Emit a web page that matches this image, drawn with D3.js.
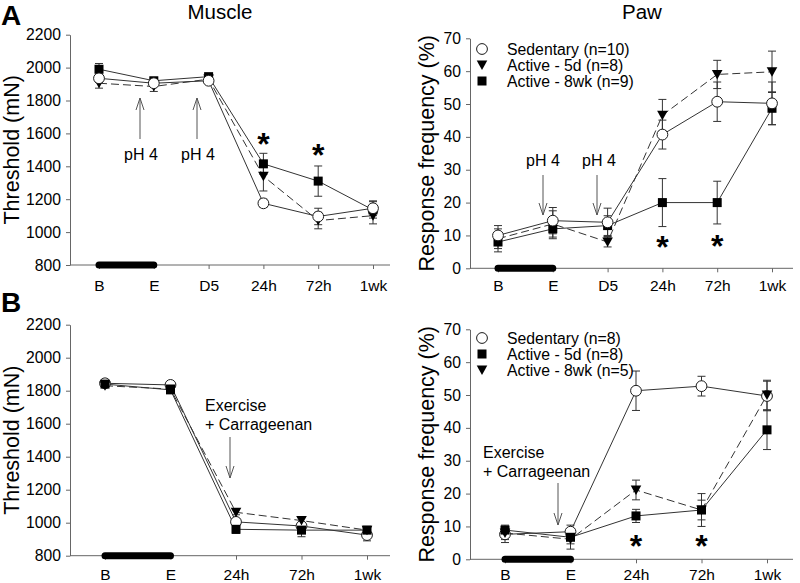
<!DOCTYPE html>
<html><head><meta charset="utf-8">
<script src="https://cdn.jsdelivr.net/npm/d3@7"></script>
<style>body{margin:0;background:#fff} svg{display:block} text{font-family:"Liberation Sans",Arial,sans-serif}</style>
</head><body>
<svg id="c" width="800" height="583"></svg>
<script>
// ---------- data ----------
const catsA = ["B","E","D5","24h","72h","1wk"];
const catsB = ["B","E","24h","72h","1wk"];
const muscleTicks = [800,1000,1200,1400,1600,1800,2000,2200];
const pawTicks = [0,10,20,30,40,50,60,70];

// Panel A - Muscle (mN)
const aMusSed     = [1935,1905,1920,1175,1095,1145];
const aMusSedErr  = [25,20,15,25,50,45];
const aMus5d      = [1905,1885,1930,1340,1070,1100];
const aMus5dErr   = [30,30,15,90,50,50];
const aMus8wk     = [1990,1920,1945,1415,1310,1135];
const aMus8wkErr  = [35,15,15,64,92,50];

// Panel A - Paw (%)
const aPawSed     = [10,14.5,14,40.7,50.7,50.2];
const aPawSedErr  = [3,4,4.3,4.4,6,6.5];
const aPaw5d      = [9,13.5,8,46.6,59,59.8];
const aPaw5dErr   = [3,4,1.5,4.8,4.3,6.3];
const aPaw8wk     = [8,12,13,20,20,48.7];
const aPaw8wkErr  = [3,3,3,7.3,6.5,5];

// Panel B - Muscle (mN)
const bMusSed     = [1845,1835,1005,980,925];
const bMusSedErr  = [10,10,20,20,35];
const bMus5d      = [1840,1805,960,955,955];
const bMus5dErr   = [10,15,25,40,15];
const bMus8wk     = [1830,1810,1063,1013,955];
const bMus8wkErr  = [10,10,15,20,15];

// Panel B - Paw (%)
const bPawSed     = [7.6,8.4,51.3,52.7,49.7];
const bPawSedErr  = [2.5,2,6,3,4.5];
const bPaw5d      = [8.9,6.7,13.2,15,39.4];
const bPaw5dErr   = [1.5,2,2,5,6];
const bPaw8wk     = [8,6.1,21.1,15,50];
const bPaw8wkErr  = [2,3,3,3,4.5];

const legendA = ["Sedentary (n=10)","Active - 5d (n=8)","Active - 8wk (n=9)"];
const legendB = ["Sedentary (n=8)","Active - 5d (n=8)","Active - 8wk (n=5)"];

// ---------- drawing ----------
const svg = d3.select("#c");
const FONT = '"Liberation Sans", Arial, sans-serif';
const INK = "#1a1a1a";

function marker(g, type, cx, cy) {
  if (type === "circle") {
    g.append("circle").attr("cx",cx).attr("cy",cy).attr("r",5.4)
      .attr("fill","#fff").attr("stroke",INK).attr("stroke-width",1);
  } else if (type === "square") {
    g.append("rect").attr("x",cx-4.5).attr("y",cy-4.5).attr("width",9).attr("height",9).attr("fill","#000");
  } else {
    g.append("path").attr("d",`M${cx-5.3},${cy-4.5}L${cx+5.3},${cy-4.5}L${cx},${cy+5}Z`).attr("fill","#000");
  }
}

function panel(cfg) {
  const g = svg.append("g");
  const x = d3.scalePoint().domain(cfg.cats).range(cfg.xr);
  const y = d3.scaleLinear().domain([cfg.ticks[0], cfg.ticks[cfg.ticks.length-1]]).range([cfg.yb, cfg.yt]);

  // y axis
  const ya = g.append("g").attr("transform",`translate(${cfg.x0},0)`)
    .call(d3.axisLeft(y).tickValues(cfg.ticks).tickFormat(d3.format("d")).tickSize(4).tickPadding(5).tickSizeOuter(0));
  ya.select(".domain").attr("stroke","#666");
  ya.selectAll(".tick line").attr("stroke","#666");
  ya.selectAll(".tick text").attr("font-size",15.7).attr("font-family",FONT).attr("fill","#000");

  // x axis
  const xa = g.append("g").attr("transform",`translate(0,${cfg.yb})`)
    .call(d3.axisBottom(x).tickSize(4).tickPadding(cfg.xpad).tickSizeOuter(0));
  xa.select(".domain").attr("d",`M${cfg.x0},0H${cfg.xe}`).attr("stroke","#666");
  xa.selectAll(".tick line").attr("stroke","#666");
  xa.selectAll(".tick text").attr("font-size",15.5).attr("font-family",FONT).attr("fill","#000");

  // exercise bar
  g.append("line").attr("x1",x("B")).attr("x2",x("E")).attr("y1",cfg.yb).attr("y2",cfg.yb)
    .attr("stroke","#000").attr("stroke-width",7).attr("stroke-linecap","round");

  const line = d3.line().x(d => x(d.c)).y(d => y(d.v));
  const seriesData = cfg.series.map(s => s.vals.map((v,i) => ({c: cfg.cats[i], v, e: s.err[i]})));

  // lines
  cfg.series.forEach((s,k) => {
    g.append("path").attr("d", line(seriesData[k])).attr("fill","none")
      .attr("stroke", "#333").attr("stroke-width",1)
      .attr("stroke-dasharray", s.dash ? "8,4" : null);
  });
  // error bars
  cfg.series.forEach((s,k) => {
    seriesData[k].forEach(d => {
      const cx = x(d.c);
      g.append("line").attr("x1",cx).attr("x2",cx).attr("y1",y(d.v-d.e)).attr("y2",y(d.v+d.e)).attr("stroke","#333");
      [d.v-d.e, d.v+d.e].forEach(t => g.append("line").attr("x1",cx-4).attr("x2",cx+4).attr("y1",y(t)).attr("y2",y(t)).attr("stroke","#333"));
    });
  });
  // markers
  cfg.order.forEach(k => {
    const s = cfg.series[k];
    seriesData[k].forEach(d => marker(g, s.type, x(d.c), y(d.v)));
  });

  // y title
  g.append("text").attr("transform",`translate(${cfg.ytx},${(cfg.yt+cfg.yb)/2}) rotate(-90)`)
    .attr("text-anchor","middle").attr("font-size",21.5).attr("font-family",FONT).text(cfg.ytitle);

  // legend
  if (cfg.legend) {
    cfg.legend.forEach((lab,i) => {
      const ly = cfg.legY + i*16;
      marker(g, cfg.series[i].type, cfg.x0 + 12, ly);
      g.append("text").attr("x", cfg.x0 + 37).attr("y", ly).attr("dy","0.36em")
        .attr("font-size",15.8).attr("font-family",FONT).text(lab);
    });
  }
  // asterisks
  (cfg.stars || []).forEach(st => {
    g.append("text").attr("x", x(st.c)).attr("y", st.y).attr("text-anchor","middle")
      .attr("font-size",32).attr("font-weight","bold").attr("font-family",FONT).text("*");
  });
  return {g, x, y};
}

function arrow(g, x, y1, y2) {
  const dir = y2 > y1 ? -1 : 1;
  g.append("line").attr("x1",x).attr("x2",x).attr("y1",y1).attr("y2",y2).attr("stroke","#555");
  g.append("path").attr("d",`M${x-4},${y2+dir*12}L${x},${y2}L${x+4},${y2+dir*12}`)
    .attr("fill","none").attr("stroke","#555");
}
function label(g, x, y, txt, anchor) {
  g.append("text").attr("x",x).attr("y",y).attr("text-anchor",anchor||"middle")
    .attr("font-size",16).attr("font-family",FONT).text(txt);
}

// Panel A left: Muscle
const pAL = panel({
  cats: catsA, xr:[99,373], x0:70, xe:390, yt:34.7, yb:265, ticks: muscleTicks, xpad:11,
  ytitle:"Threshold (mN)", ytx:18.5,
  series:[
    {vals:aMusSed, err:aMusSedErr, type:"circle", dash:false},
    {vals:aMus5d, err:aMus5dErr, type:"triangle", dash:true},
    {vals:aMus8wk, err:aMus8wkErr, type:"square", dash:false}
  ],
  order:[1,2,0],
  stars:[{c:"24h", y:155},{c:"72h", y:166}]
});
arrow(pAL.g, 140, 139, 98);
arrow(pAL.g, 197, 139, 98);
label(pAL.g, 141, 160, "pH 4");
label(pAL.g, 198, 160, "pH 4");

// Panel A right: Paw
const pAR = panel({
  cats: catsA, xr:[498,772], x0:470, xe:793, yt:38.3, yb:268.3, ticks: pawTicks, xpad:8,
  ytitle:"Response frequency (%)", ytx:434,
  series:[
    {vals:aPawSed, err:aPawSedErr, type:"circle", dash:false},
    {vals:aPaw5d, err:aPaw5dErr, type:"triangle", dash:true},
    {vals:aPaw8wk, err:aPaw8wkErr, type:"square", dash:false}
  ],
  order:[1,2,0],
  legend: legendA, legY:49,
  stars:[{c:"24h", y:258},{c:"72h", y:257}]
});
arrow(pAR.g, 543, 175, 215);
arrow(pAR.g, 597, 175, 215);
label(pAR.g, 543, 166, "pH 4");
label(pAR.g, 599, 166, "pH 4");

// Panel B left: Muscle
const pBL = panel({
  cats: catsB, xr:[105,367], x0:70, xe:390, yt:324.7, yb:555.7, ticks: muscleTicks, xpad:9.5,
  ytitle:"Threshold (mN)", ytx:18.5,
  series:[
    {vals:bMusSed, err:bMusSedErr, type:"circle", dash:false},
    {vals:bMus5d, err:bMus5dErr, type:"square", dash:false},
    {vals:bMus8wk, err:bMus8wkErr, type:"triangle", dash:true}
  ],
  order:[0,1,2]
});
arrow(pBL.g, 230, 437, 478);
label(pBL.g, 205, 411, "Exercise", "start");
label(pBL.g, 205, 430, "+ Carrageenan", "start");

// Panel B right: Paw
const pBR = panel({
  cats: catsB, xr:[505,767], x0:470, xe:793, yt:329.3, yb:559.3, ticks: pawTicks, xpad:6,
  ytitle:"Response frequency (%)", ytx:434,
  series:[
    {vals:bPawSed, err:bPawSedErr, type:"circle", dash:false},
    {vals:bPaw5d, err:bPaw5dErr, type:"square", dash:false},
    {vals:bPaw8wk, err:bPaw8wkErr, type:"triangle", dash:true}
  ],
  order:[0,1,2],
  legend: legendB, legY:338,
  stars:[{c:"24h", y:557},{c:"72h", y:557}]
});
arrow(pBR.g, 558, 483, 525);
label(pBR.g, 483, 458, "Exercise", "start");
label(pBR.g, 483, 477, "+ Carrageenan", "start");

// titles & panel letters
svg.append("text").attr("x",220).attr("y",18.5).attr("text-anchor","middle").attr("font-size",20.5).attr("font-family",FONT).text("Muscle");
svg.append("text").attr("x",642).attr("y",18.5).attr("text-anchor","middle").attr("font-size",20.5).attr("font-family",FONT).text("Paw");
svg.append("text").attr("x",1).attr("y",25).attr("font-size",28).attr("font-weight","bold").attr("font-family",FONT).text("A");
svg.append("text").attr("x",1).attr("y",312).attr("font-size",28).attr("font-weight","bold").attr("font-family",FONT).text("B");
</script>
</body></html>
